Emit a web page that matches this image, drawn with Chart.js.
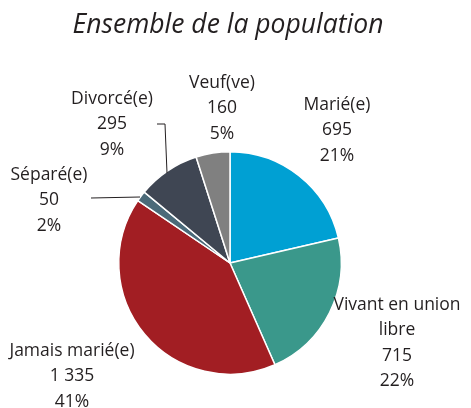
<!DOCTYPE html>
<html>
<head>
<meta charset="utf-8">
<script src="https://cdn.jsdelivr.net/npm/chart.js@4"></script>
<style>
  html, body { margin: 0; padding: 0; background: #fff; }
  #wrap { width: 471px; height: 408px; position: relative; }
</style>
</head>
<body>
<div id="wrap"><canvas id="pieChart" width="471" height="408"></canvas></div>
<script>
const title = 'Ensemble de la population';
const categories = ['Marié(e)', 'Vivant en union libre', 'Jamais marié(e)', 'Séparé(e)', 'Divorcé(e)', 'Veuf(ve)'];
const counts = [695, 715, 1335, 50, 295, 160];
const colors = ['#00a0d3', '#3a988b', '#a21e23', '#4b6a79', '#3f4653', '#808080'];

// label text lines (name can wrap) and where to put them
const labelLines = [['Marié(e)'], ['Vivant en union', 'libre'], ['Jamais marié(e)'], ['Séparé(e)'], ['Divorcé(e)'], ['Veuf(ve)']];
const labelAnchors = [[337, 105], [397, 305], [72, 351], [49, 175], [112, 99], [222, 83]];
const leaders = {
  3: [[91, 198], [140, 197]],
  4: [[157, 124], [165, 124], [167, 173]]
};

const total = counts.reduce((a, b) => a + b, 0);
const fmt = n => String(n).replace(/\B(?=(\d{3})+(?!\d))/g, ' ');

const labelPlugin = {
  id: 'labels',
  afterDraw(chart) {
    const ctx = chart.ctx;
    ctx.save();
    ctx.fillStyle = '#231f20';
    ctx.textAlign = 'center';
    ctx.textBaseline = 'middle';
    ctx.font = 'italic 26.5px "Open Sans"';
    ctx.fillText(title, 228, 25);

    ctx.font = '17.5px "Open Sans"';
    counts.forEach((v, i) => {
      const lines = labelLines[i].concat([fmt(v), Math.round(v / total * 100) + '%']);
      const [x, y] = labelAnchors[i];
      lines.forEach((t, j) => ctx.fillText(t, x, y + j * 25.3));
    });

    ctx.strokeStyle = '#231f20';
    ctx.lineWidth = 1;
    Object.values(leaders).forEach(pts => {
      ctx.beginPath();
      pts.forEach((p, k) => k ? ctx.lineTo(p[0], p[1]) : ctx.moveTo(p[0], p[1]));
      ctx.stroke();
    });
    ctx.restore();
  }
};

new Chart(document.getElementById('pieChart'), {
  type: 'pie',
  data: {
    labels: categories,
    datasets: [{
      data: counts,
      backgroundColor: colors,
      borderColor: '#ffffff',
      borderWidth: 1.5
    }]
  },
  options: {
    responsive: false,
    animation: false,
    layout: { padding: { top: 151, bottom: 33, left: 118, right: 129 } },
    plugins: {
      legend: { display: false },
      tooltip: { enabled: false }
    }
  },
  plugins: [labelPlugin]
});
</script>
</body>
</html>
